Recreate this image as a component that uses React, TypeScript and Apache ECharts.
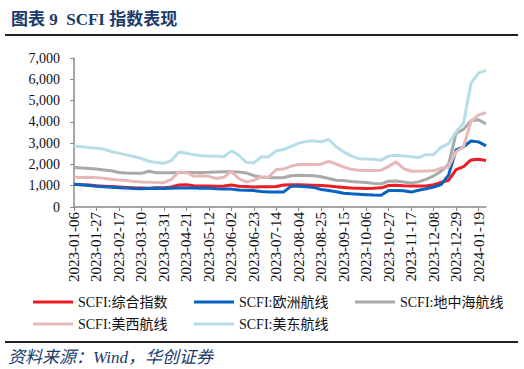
import React, { useEffect, useRef } from "react";
import * as echarts from "echarts";

const dates = [
  "2023-01-06","2023-01-13","2023-01-20","2023-01-27","2023-02-03","2023-02-10","2023-02-17","2023-02-24",
  "2023-03-03","2023-03-10","2023-03-17","2023-03-24","2023-03-31","2023-04-07","2023-04-14","2023-04-21",
  "2023-04-28","2023-05-05","2023-05-12","2023-05-19","2023-05-26","2023-06-02","2023-06-09","2023-06-16",
  "2023-06-23","2023-06-30","2023-07-07","2023-07-14","2023-07-21","2023-07-28","2023-08-04","2023-08-11",
  "2023-08-18","2023-08-25","2023-09-01","2023-09-08","2023-09-15","2023-09-22","2023-09-29","2023-10-06",
  "2023-10-13","2023-10-20","2023-10-27","2023-11-03","2023-11-10","2023-11-17","2023-11-24","2023-12-01",
  "2023-12-08","2023-12-15","2023-12-22","2023-12-29","2024-01-05","2024-01-12","2024-01-19","2024-01-26",
];

const composite = [
  1060,1050,1030,1000,980,960,940,920,900,890,880,900,910,940,1030,1050,
  1000,990,990,980,990,1030,980,960,940,950,950,960,1030,1040,1040,1030,
  1020,1010,990,950,920,890,880,870,880,900,1010,1020,1000,990,990,990,
  1050,1150,1250,1760,1900,2210,2240,2180,
];

const europe = [
  1070,1040,1010,980,950,930,910,890,870,860,870,880,870,880,890,890,
  890,880,880,860,850,840,800,790,770,730,710,710,710,980,970,950,
  920,820,780,720,650,620,600,580,560,550,780,780,760,700,790,860,
  940,1050,1500,2680,2830,3100,3060,2870,
];

const mediterranean = [
  1850,1830,1810,1780,1740,1700,1620,1600,1590,1580,1680,1610,1610,1610,1620,1620,
  1620,1620,1630,1650,1660,1660,1640,1600,1470,1400,1380,1380,1390,1470,1490,1480,
  1470,1420,1340,1260,1240,1200,1170,1150,1110,1090,1210,1220,1170,1130,1180,1300,
  1460,1680,2000,3450,3650,4050,4100,3900,
];

const usWest = [
  1410,1390,1400,1380,1350,1300,1270,1240,1200,1170,1160,1150,1140,1300,1650,1620,
  1450,1470,1440,1340,1400,1670,1330,1180,1250,1410,1410,1760,1780,1920,2000,2010,
  2000,2010,2140,2020,1880,1770,1730,1720,1720,1730,1910,2120,1800,1680,1680,1690,
  1700,1830,1880,2600,2830,4020,4330,4430,
];

const usEast = [
  2860,2830,2800,2760,2720,2600,2530,2450,2370,2280,2150,2090,2050,2180,2580,2530,
  2450,2410,2400,2380,2360,2640,2430,2100,2070,2350,2360,2640,2700,2850,3000,3080,
  3110,3060,3170,2830,2590,2400,2270,2250,2240,2200,2390,2430,2400,2360,2320,2460,
  2460,2800,2980,3530,3930,5820,6290,6420,
];

const seriesNames = ["SCFI:综合指数", "SCFI:欧洲航线", "SCFI:地中海航线", "SCFI:美西航线", "SCFI:美东航线"];
const seriesColors = ["#EE1C25", "#0563C1", "#A9A9A9", "#E6B9B8", "#B7DEE8"];
const seriesData = [composite, europe, mediterranean, usWest, usEast];

const yTicks = { min: 0, max: 7000, interval: 1000 };

const LATIN = "'Liberation Serif', 'Noto Sans CJK SC', serif";

export default function App() {
  const ref = useRef<HTMLDivElement>(null);
  useEffect(() => {
    if (!ref.current) return;
    const chart = echarts.init(ref.current, undefined, { renderer: "svg" });
    const legendPos = [
      { left: 33, top: 295 },
      { left: 194, top: 295 },
      { left: 355, top: 295 },
      { left: 33, top: 317 },
      { left: 194, top: 317 },
    ];
    chart.setOption({
      animation: false,
      backgroundColor: "#ffffff",
      title: {
        text: "图表 9  SCFI 指数表现",
        left: 6,
        top: 6,
        textStyle: { fontSize: 17, fontWeight: "bold", color: "#1B3A6B", fontFamily: LATIN },
      },
      legend: seriesNames.map((n, i) => ({
        data: [n],
        left: legendPos[i].left,
        top: legendPos[i].top,
        padding: 0,
        icon: "rect",
        itemWidth: 40,
        itemHeight: 3,
        textStyle: { fontSize: 14, color: "#111", fontFamily: LATIN },
      })),
      grid: { left: 74, right: 38, top: 58, bottom: 162, containLabel: false },
      xAxis: {
        type: "category",
        data: dates,
        boundaryGap: false,
        axisLine: { lineStyle: { color: "#888", width: 1.5 } },
        axisTick: { interval: 2, length: 4, lineStyle: { color: "#888" } },
        axisLabel: {
          interval: 2,
          rotate: 90,
          fontSize: 15,
          color: "#111",
          fontFamily: LATIN,
          margin: 5,
        },
        splitLine: { show: false },
      },
      yAxis: {
        type: "value",
        min: yTicks.min,
        max: yTicks.max,
        interval: yTicks.interval,
        axisLine: { show: true, lineStyle: { color: "#888", width: 1.5 } },
        axisTick: { show: true, length: 4, lineStyle: { color: "#888" } },
        axisLabel: {
          fontSize: 14,
          color: "#111",
          fontFamily: LATIN,
          margin: 14,
          formatter: (v: number) => v.toLocaleString("en-US"),
        },
        splitLine: { show: false },
      },
      series: seriesNames.map((n, i) => ({
        name: n,
        type: "line",
        data: seriesData[i],
        symbol: "none",
        lineStyle: { color: seriesColors[i], width: 3 },
        itemStyle: { color: seriesColors[i] },
      })),
      graphic: [
        {
          type: "line",
          shape: { x1: 5, y1: 35, x2: 518, y2: 35 },
          style: { stroke: "#222", lineWidth: 2 },
        },
        {
          type: "line",
          shape: { x1: 5, y1: 342, x2: 518, y2: 342 },
          style: { stroke: "#222", lineWidth: 2 },
        },
        {
          type: "text",
          x: 8,
          y: 357,
          style: {
            text: "资料来源：Wind，华创证券",
            fill: "#1B3A6B",
            font: "italic 17px 'Liberation Serif', 'Noto Sans CJK SC', serif",
            verticalAlign: "middle",
          },
        },
      ],
    });
    return () => chart.dispose();
  }, []);
  return (
    <div
      ref={ref}
      style={{ position: "fixed", left: 0, top: 0, width: 524, height: 369 }}
    />
  );
}
